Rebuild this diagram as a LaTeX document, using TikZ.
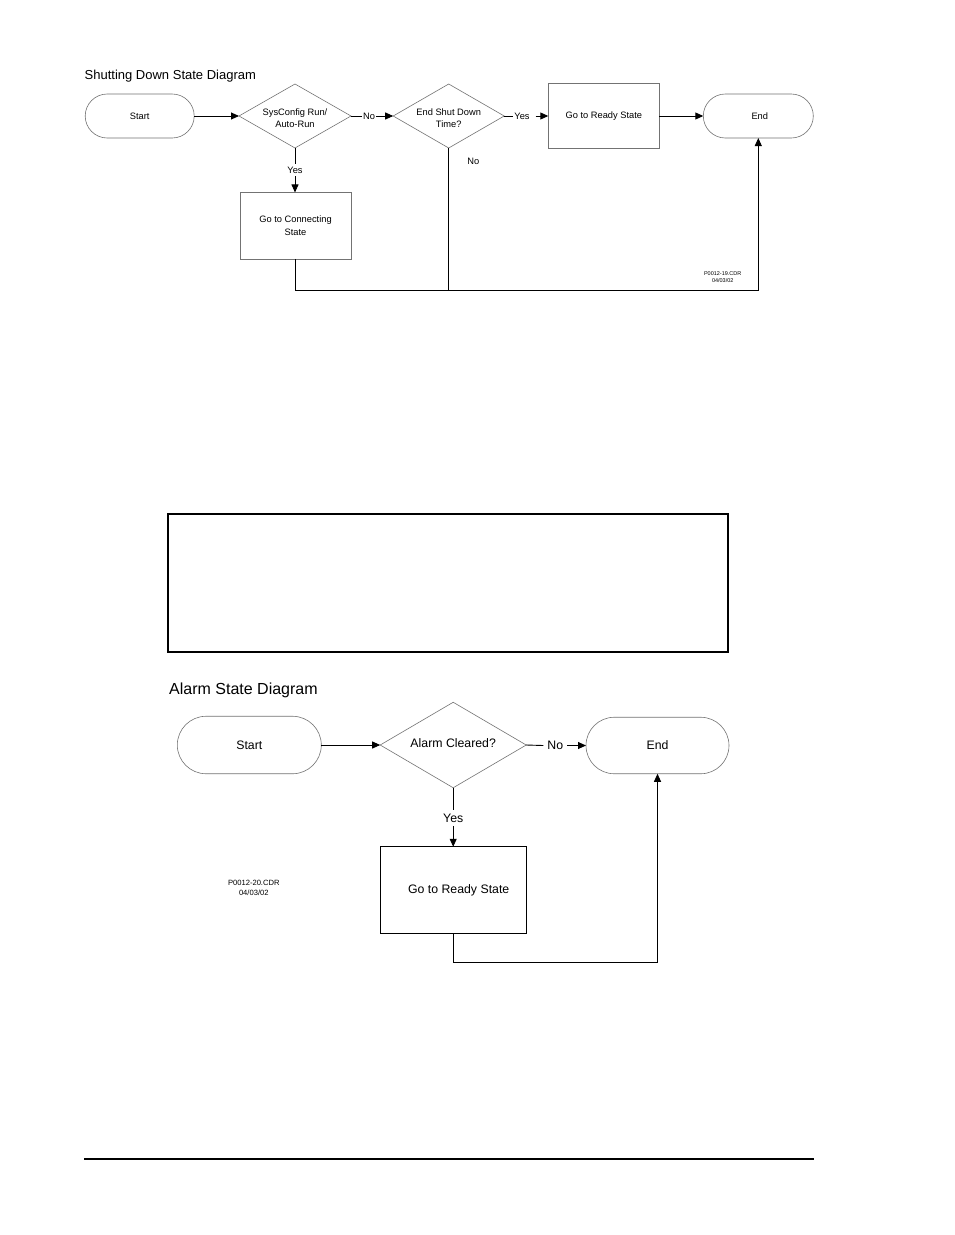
\documentclass[tikz,border=0pt]{standalone}
\usepackage{fontspec}
\setmainfont{Liberation Sans}
\usetikzlibrary{shapes.misc,shapes.geometric,arrows.meta}
\newcommand{\twoline}[2]{\raisebox{-3pt}[\height][\depth]{\begin{tabular}{@{}c@{}}#1\\#2\end{tabular}}}
\begin{document}
\begin{tikzpicture}[x=1pt,y=-1pt,
  shp/.style={draw=black!55,line width=0.6pt,inner sep=0pt,outer sep=0pt,align=center},
  term/.style={shp,rounded rectangle},
  decis/.style={shp,diamond},
  procbox/.style={shp},
  conn/.style={draw=black,line width=0.9pt},
  arr/.style={conn,-{Triangle[length=8pt,width=7pt]}},
  lab/.style={inner sep=1pt,outer sep=0pt},
  smallf/.style={font=\fontsize{9.3}{12.3}\selectfont},
  bigf/.style={font=\fontsize{12.3}{15}\selectfont}
]
\useasboundingbox[fill=white] (0,0) rectangle (954,1235);

% ---------- Shutting Down State Diagram ----------
\node[anchor=base west,inner sep=0pt,font=\fontsize{13}{15}\selectfont] (t1) at (84.5,79) {Shutting Down State Diagram};

\node[term,smallf,minimum width=109pt,minimum height=44pt] (start) at (139.7,116) {Start};
\node[decis,smallf,aspect=1.75,minimum width=112pt,minimum height=64pt] (d1) at (295,116) {\twoline{SysConfig Run/}{Auto-Run}};
\node[decis,smallf,aspect=1.75,minimum width=111pt,minimum height=64pt] (d2) at (448.7,116) {\twoline{End Shut Down}{Time?}};
\node[procbox,smallf,minimum width=111pt,minimum height=65pt] (ready) at (603.8,116) {Go to Ready State};
\node[term,smallf,minimum width=110pt,minimum height=44pt] (end) at (758.3,116) {\hspace*{3pt}End};
\node[procbox,smallf,minimum width=111pt,minimum height=66.5pt] (cst) at (295.5,225.7) {Go to Connecting\\State};

\node[lab,smallf] (no1) at (369,116) {No};
\node[lab,smallf] (yes1) at (522,116) {Yes};
\node[lab,smallf,inner sep=3pt] (yes2) at (295,170) {Yes};
\node[lab,smallf] (no2) at (473.3,161) {No};
\node[inner sep=0pt,align=center,font=\fontsize{5.5}{6.7}\selectfont] (ref1) at (722.7,277.3) {P0012-19.CDR\\04/03/02};
\coordinate (jn1) at (758.3,290.7);

\draw[arr] (start.east) -- (d1.west);
\draw[conn] (d1.east) -- (no1.west);
\draw[arr] (no1.east) -- (d2.west);
\draw[conn] (d2.east) -- (yes1.west);
\draw[arr] (yes1.east) ++(5pt,0) -- (ready.west);
\draw[arr] (ready.east) -- (end.west);
\draw[conn] (d1.south) -- (yes2.north);
\draw[arr] (yes2.south) -- (yes2.south |- cst.north);
\draw[arr] (cst.south) |- (jn1) -- (end.south);
\draw[conn] (d2.south) -- (d2.south |- jn1);

% ---------- empty framed box ----------
\draw[line width=1.5pt] (168,514) rectangle (728,652);

% ---------- Alarm State Diagram ----------
\node[anchor=base west,inner sep=0pt,font=\fontsize{16}{19}\selectfont] (t2) at (169,694.3) {Alarm State Diagram};

\node[term,bigf,minimum width=144pt,minimum height=57.5pt] (astart) at (249.3,745) {Start};
\node[decis,bigf,aspect=1.71,minimum width=146pt,minimum height=85.5pt] (adia) at (453.2,745) {\raisebox{1.5pt}[\height][\depth]{Alarm Cleared?}};
\node[term,bigf,minimum width=143pt,minimum height=56.5pt] (aend) at (657.5,745.5) {End};
\node[procbox,draw=black,line width=0.9pt,bigf,minimum width=146pt,minimum height=86.5pt] (abox) at (453.2,890) {\hspace*{11pt}Go to Ready State};

\node[lab,bigf,inner sep=4pt] (ano) at (555.3,745.5) {No};
\node[lab,bigf,inner sep=3.5pt] (ayes) at (453.2,818) {Yes};
\node[inner sep=0pt,align=center,font=\fontsize{7.6}{10}\selectfont] (ref2) at (253.8,888.3) {P0012-20.CDR\\04/03/02};
\coordinate (jn2) at (657.5,962.3);

\draw[arr] (astart.east) -- (adia.west);
\draw[conn] (adia.east) -- (ano.west);
\draw[arr] (ano.east) -- (aend.west);
\draw[conn] (adia.south) -- (ayes.north);
\draw[arr] (ayes.south) -- (abox.north);
\draw[arr] (abox.south) |- (jn2) -- (aend.south);

% ---------- bottom rule ----------
\draw[line width=2pt] (84,1159) -- (814,1159);
\end{tikzpicture}
\end{document}
